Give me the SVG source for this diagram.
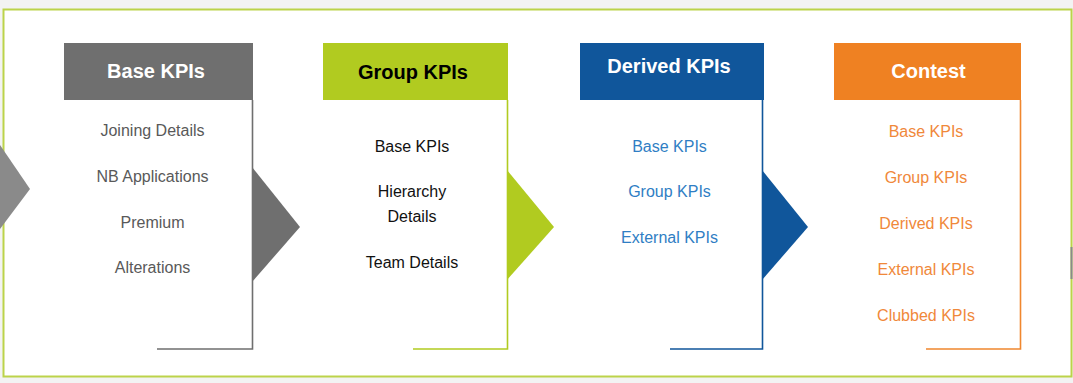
<svg xmlns="http://www.w3.org/2000/svg" width="1073" height="383" viewBox="0 0 1073 383">
<style>
.hdr{font-family:"Liberation Sans",Arial,sans-serif;font-weight:bold;font-size:20px;text-anchor:middle}
.item{font-family:"Liberation Sans",Arial,sans-serif;font-size:16px;text-anchor:middle}
.ln{fill:none;stroke-width:1.6}
</style>
<rect x="0" y="0" width="1073" height="383" fill="#f3f3f3"/>
<rect id="frame" x="3.5" y="9.5" width="1068" height="367" fill="#ffffff" stroke="#bcd34a" stroke-width="2"/>
<line x1="1071.5" y1="247" x2="1071.5" y2="279" stroke="#8a8a8a" stroke-width="2"/>
<g id="connectors">
  <polygon points="0,145 30,189 0,229" fill="#8a8a8a"/>
  <polygon points="252,167 300,227 252,282" fill="#6f6f6f"/>
  <polygon points="507,170 554,227 507,280" fill="#b1cb20"/>
  <polygon points="762,170 808,227 762,280" fill="#10569b"/>
</g>
<g id="base">
  <polyline class="ln" points="252.5,100 252.5,349 157,349" stroke="#6f6f6f"/>
  <rect x="64" y="43" width="189" height="57" fill="#6f6f6f"/>
  <text class="hdr" x="156" y="78" fill="#ffffff">Base KPIs</text>
  <g class="item" fill="#595959">
    <text x="152.5" y="136">Joining Details</text>
    <text x="152.5" y="182">NB Applications</text>
    <text x="152.5" y="228">Premium</text>
    <text x="152.5" y="273">Alterations</text>
  </g>
</g>
<g id="group">
  <polyline class="ln" points="507.5,100 507.5,349 413,349" stroke="#b1cb20"/>
  <rect x="323" y="43" width="185" height="57" fill="#b1cb20"/>
  <text class="hdr" x="413" y="79" fill="#000000">Group KPIs</text>
  <g class="item" fill="#111111">
    <text x="412" y="152">Base KPIs</text>
    <text x="412" y="197">Hierarchy</text>
    <text x="412" y="222">Details</text>
    <text x="412" y="268">Team Details</text>
  </g>
</g>
<g id="derived">
  <polyline class="ln" points="762.5,100 762.5,349 670,349" stroke="#10569b"/>
  <rect x="580" y="43" width="184" height="57" fill="#10569b"/>
  <text class="hdr" x="669" y="73" fill="#ffffff">Derived KPIs</text>
  <g class="item" fill="#2f7ec4">
    <text x="669.5" y="152">Base KPIs</text>
    <text x="669.5" y="197">Group KPIs</text>
    <text x="669.5" y="243">External KPIs</text>
  </g>
</g>
<g id="contest">
  <polyline class="ln" points="1020.5,100 1020.5,349 926,349" stroke="#f0872e"/>
  <rect x="834" y="43" width="187" height="57" fill="#ef8122"/>
  <text class="hdr" x="928.5" y="78" fill="#ffffff">Contest</text>
  <g class="item" fill="#f0883a">
    <text x="926" y="137">Base KPIs</text>
    <text x="926" y="183">Group KPIs</text>
    <text x="926" y="229">Derived KPIs</text>
    <text x="926" y="275">External KPIs</text>
    <text x="926" y="321">Clubbed KPIs</text>
  </g>
</g>
</svg>
